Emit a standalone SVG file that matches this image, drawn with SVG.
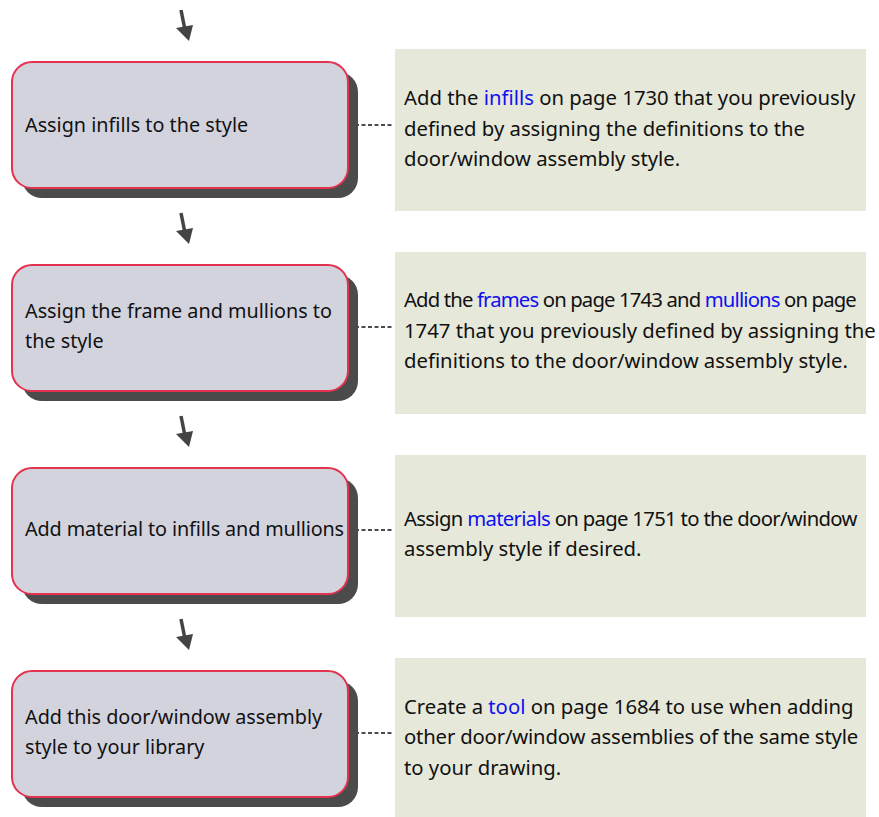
<svg xmlns="http://www.w3.org/2000/svg" width="879" height="817" viewBox="0 0 879 817">
<defs>
<style>
.shadow{fill:#4b4b4b}
.box{fill:#d3d3de;stroke:#e3334f;stroke-width:2}
.note{fill:#e6e8da}
.t{font-family:"Noto Sans","Open Sans",sans-serif;font-size:19.8px;fill:#111}
.n{font-family:"Noto Sans","Open Sans",sans-serif;font-size:20.3px;fill:#111}
.lk{fill:#1010f0}
.dash{stroke:#111;stroke-width:1.3;stroke-dasharray:4,2.5;fill:none}
.arr{fill:#444}
.shaft{stroke:#444;stroke-width:3.5;fill:none}
</style>
</defs>
<rect width="879" height="817" fill="#fff"/>
<g id="connectors">
<line class="dash" x1="355" y1="125" x2="394" y2="125"/>
<line class="dash" x1="355" y1="327" x2="394" y2="327"/>
<line class="dash" x1="355" y1="530" x2="394" y2="530"/>
<line class="dash" x1="355" y1="733" x2="394" y2="733"/>
<g transform="translate(0,0)"><path class="shaft" d="M181,10 L185,30"/><path class="arr" d="M176,28 L193,25 L189,41 Z"/></g>
<g transform="translate(0,203)"><path class="shaft" d="M181,10 L185,30"/><path class="arr" d="M176,28 L193,25 L189,41 Z"/></g>
<g transform="translate(0,406)"><path class="shaft" d="M181,10 L185,30"/><path class="arr" d="M176,28 L193,25 L189,41 Z"/></g>
<g transform="translate(0,609)"><path class="shaft" d="M181,10 L185,30"/><path class="arr" d="M176,28 L193,25 L189,41 Z"/></g>
</g>
<g id="step1">
<rect class="shadow" x="22" y="72" width="336" height="126" rx="20"/>
<rect class="box" x="12" y="62" width="336" height="126" rx="20"/>
<text class="t" x="25" y="132">Assign infills to the style</text>
</g>
<g id="note1">
<rect class="note" x="395" y="49" width="471" height="162"/>
<text class="n" x="404" y="105">Add the <tspan class="lk">infills</tspan> on page 1730 that you previously</text>
<text class="n" x="404" y="136">defined by assigning the definitions to the</text>
<text class="n" x="404" y="166">door/window assembly style.</text>
</g>
<g id="step2">
<rect class="shadow" x="22" y="275" width="336" height="126" rx="20"/>
<rect class="box" x="12" y="265" width="336" height="126" rx="20"/>
<text class="t" x="25" y="318">Assign the frame and mullions to</text>
<text class="t" x="25" y="348">the style</text>
</g>
<g id="note2">
<rect class="note" x="395" y="252" width="471" height="162"/>
<text class="n" x="404" y="307" letter-spacing="-0.85">Add the <tspan class="lk">frames</tspan> on page 1743 and <tspan class="lk">mullions</tspan> on page</text>
<text class="n" x="404" y="338">1747 that you previously defined by assigning the</text>
<text class="n" x="404" y="368">definitions to the door/window assembly style.</text>
</g>
<g id="step3">
<rect class="shadow" x="22" y="478" width="336" height="126" rx="20"/>
<rect class="box" x="12" y="468" width="336" height="126" rx="20"/>
<text class="t" x="25" y="536" letter-spacing="-0.12">Add material to infills and mullions</text>
</g>
<g id="note3">
<rect class="note" x="395" y="455" width="471" height="162"/>
<text class="n" x="404" y="526" letter-spacing="-0.68">Assign <tspan class="lk">materials</tspan> on page 1751 to the door/window</text>
<text class="n" x="404" y="556">assembly style if desired.</text>
</g>
<g id="step4">
<rect class="shadow" x="22" y="681" width="336" height="126" rx="20"/>
<rect class="box" x="12" y="671" width="336" height="126" rx="20"/>
<text class="t" x="25" y="724">Add this door/window assembly</text>
<text class="t" x="25" y="754">style to your library</text>
</g>
<g id="note4">
<rect class="note" x="395" y="658" width="471" height="159"/>
<text class="n" x="404" y="714">Create a <tspan class="lk">tool</tspan> on page 1684 to use when adding</text>
<text class="n" x="404" y="744" letter-spacing="-0.17">other door/window assemblies of the same style</text>
<text class="n" x="404" y="775">to your drawing.</text>
</g>
</svg>
